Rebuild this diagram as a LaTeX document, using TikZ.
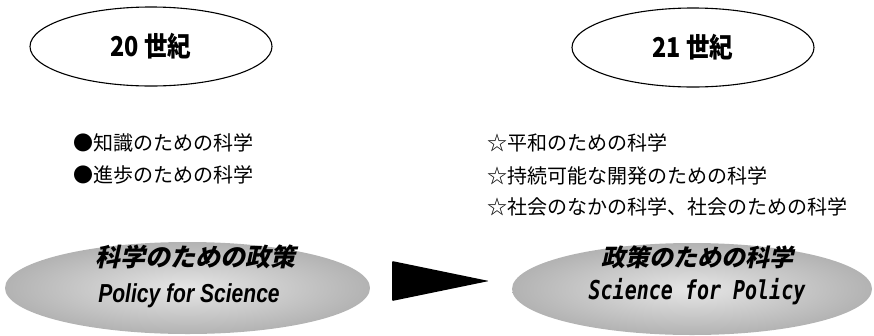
\documentclass[tikz,border=0pt]{standalone}
\usepackage{fontspec}
\usepackage{graphicx}
\usetikzlibrary{shapes.geometric}
\setmainfont{Noto Sans CJK JP}
\newfontfamily\jp{Noto Sans CJK JP}
\newfontfamily\jpsl[FakeSlant=0.22]{Noto Sans CJK JP}
\newfontfamily\ensl{Liberation Sans}
\newfontfamily\monosl{DejaVu Sans Mono}
\begin{document}
\begin{tikzpicture}[x=1pt,y=-1pt,
  era/.style={ellipse, draw=black, line width=1.1pt, fill=white,
    minimum width=242pt, minimum height=79pt, inner sep=0pt,
    font=\jp\bfseries\fontsize{26}{30}\selectfont},
  item/.style={anchor=west, inner sep=0pt, font=\jp\fontsize{20}{24}\selectfont},
  policy/.style={ellipse, minimum height=92pt, inner sep=0pt,
    shading=radial, inner color=black!10, outer color=black!30},
  ptext/.style={inner sep=0pt}
]
\useasboundingbox (0,0) rectangle (874,335);
\node[era] (e20) at (151,46.5) {\scalebox{0.9}[1.05]{20 世紀}};
\node[era] (e21) at (693,47.5) {\scalebox{0.9}[1.05]{21 世紀}};
\node[item] (k1) at (73,143) {●知識のための科学};
\node[item] (k2) at (73,175) {●進歩のための科学};
\node[item] (h1) at (487,143) {☆平和のための科学};
\node[item] (h2) at (487,176) {☆持続可能な開発のための科学};
\node[item] (h3) at (487,207) {☆社会のなかの科学、社会のための科学};
\node[policy, minimum width=365pt] (p20) at (187.5,288) {};
\node[policy, minimum width=360pt] (p21) at (692,289) {};
\node[ptext, font=\jpsl\bfseries\fontsize{25}{28}\selectfont] (p20j) at (195,257)
  {科学のための政策};
\node[ptext, font=\ensl\bfseries\itshape\fontsize{26}{30}\selectfont] (p20e) at (189,296)
  {\scalebox{0.81}[1]{Policy for Science}};
\node[ptext, font=\jpsl\bfseries\fontsize{24}{28}\selectfont] (p21j) at (697,257)
  {政策のための科学};
\node[ptext, font=\monosl\bfseries\itshape\fontsize{20}{24}\selectfont] (p21e) at (697,292)
  {\scalebox{1}[1.3]{Science for Policy}};
\fill[rounded corners=1pt] (392,261) -- (489,281) -- (392,301) -- cycle;
\end{tikzpicture}
\end{document}
